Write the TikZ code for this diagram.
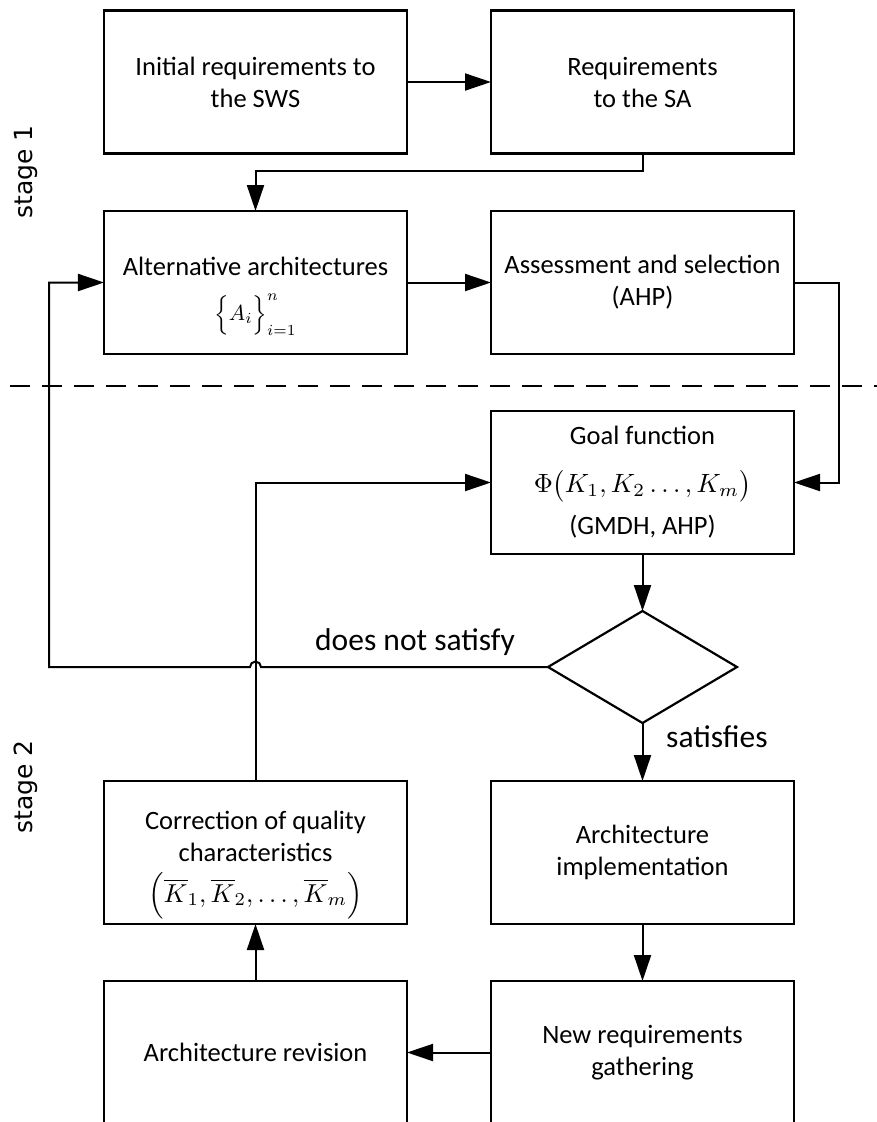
\documentclass[tikz,border=0pt]{standalone}
\usepackage{graphicx}
\usepackage{fontspec}
\setmainfont{Carlito}
\newfontfamily\stagefont{DejaVu Sans}
\usetikzlibrary{arrows.meta,shapes.geometric,calc}
% formula set at 10pt and magnified
\newcommand\fmla[2]{\scalebox{#1}{\normalsize$#2$}}

\begin{document}
\begin{tikzpicture}[x=1bp,y=-1bp,
  box/.style={draw, line width=2.4bp, minimum width=303bp, minimum height=143bp,
    inner sep=0pt, outer sep=0pt, align=center,
    font=\fontsize{26.5bp}{32bp}\selectfont},
  decision/.style={draw, diamond, line width=2.2bp, minimum width=189bp,
    minimum height=112bp, inner sep=0pt, outer sep=0pt},
  flow/.style={line width=2bp, -{Triangle[length=26bp,width=17bp]}},
  tag/.style={font=\fontsize{31.5bp}{38bp}\selectfont, inner sep=0pt},
  stagelabel/.style={font=\stagefont\fontsize{25bp}{30bp}\selectfont,
    rotate=90, inner sep=0pt},
  stageline/.style={line width=2bp, dash pattern=on 20bp off 12bp},
]
% canvas
\fill[white] (0,0) rectangle (877,1122);
\useasboundingbox (0,0) rectangle (877,1122);

% stage 1 boxes
\node[box] (init)   at (255.5,82)    {Initial requirements to\\the SWS};
\node[box] (reqsa)  at (642.5,82)    {Requirements\\to the SA};
\node[box] (alt)    at (255.5,282.5) {\rule{0pt}{46bp}Alternative architectures\\[13bp]\fmla{2.2}{\Bigl\{A_i\Bigr\}_{i=1}^{n}}};
\node[box] (assess) at (642.5,282.5) {Assessment and selection\\(AHP)};

% stage 2 boxes
\node[box] (goal)   at (642.5,482.5) {Goal function\\[16bp]\fmla{2.65}{\Phi\bigl(K_1, K_2\ldots, K_m\bigr)}\\[10bp](GMDH, AHP)};
\node[decision] (check) at (642.5,667) {};
\node[box] (impl)   at (642.5,852.5) {Architecture\\implementation};
\node[box] (corr)   at (255.5,852.5) {\rule{0pt}{43bp}Correction of quality\\characteristics\\[9bp]\fmla{2.6}{\Bigl(\overline{K}_1, \overline{K}_2, \ldots, \overline{K}_m\Bigr)}};
\node[box] (newreq) at (642.5,1052.5) {New requirements\\gathering};
\node[box] (revise) at (255.5,1052.5) {Architecture revision};

% stage labels and separator
\node[stagelabel] (s1) at (26,172) {stage 1};
\node[stagelabel] (s2) at (26,787) {stage 2};
\draw[stageline] (10,386) -- (877,386);

% decision labels
\node[tag, anchor=base west] (nosat) at (315,650) {does not satisfy};
\node[tag, anchor=base west] (sat)   at (666,747) {satisfies};

% return path on the left
\coordinate (loopL) at (49,282.5);

% connectors
\draw[flow] (init) -- (reqsa);
\draw[flow] (reqsa.south) -- ++(0,17) -| (alt.north);
\draw[flow] (alt) -- (assess);
\draw[flow] (assess.east) -- ++(45,0) |- (goal.east);
\draw[flow] (goal) -- (check);
\draw[flow] (check) -- (impl);
\draw[flow] (impl) -- (newreq);
\draw[flow] (newreq) -- (revise);
\draw[flow] (revise) -- (corr);
\draw[flow] (corr.north) |- (goal.west);
\draw[flow] (check.west) -- ($(corr.north |- check.west)+(5.5bp,0)$)
  arc[start angle=0, end angle=180, radius=5.5bp]
  -- (loopL |- check.west) |- (alt.west);
\end{tikzpicture}
\end{document}
